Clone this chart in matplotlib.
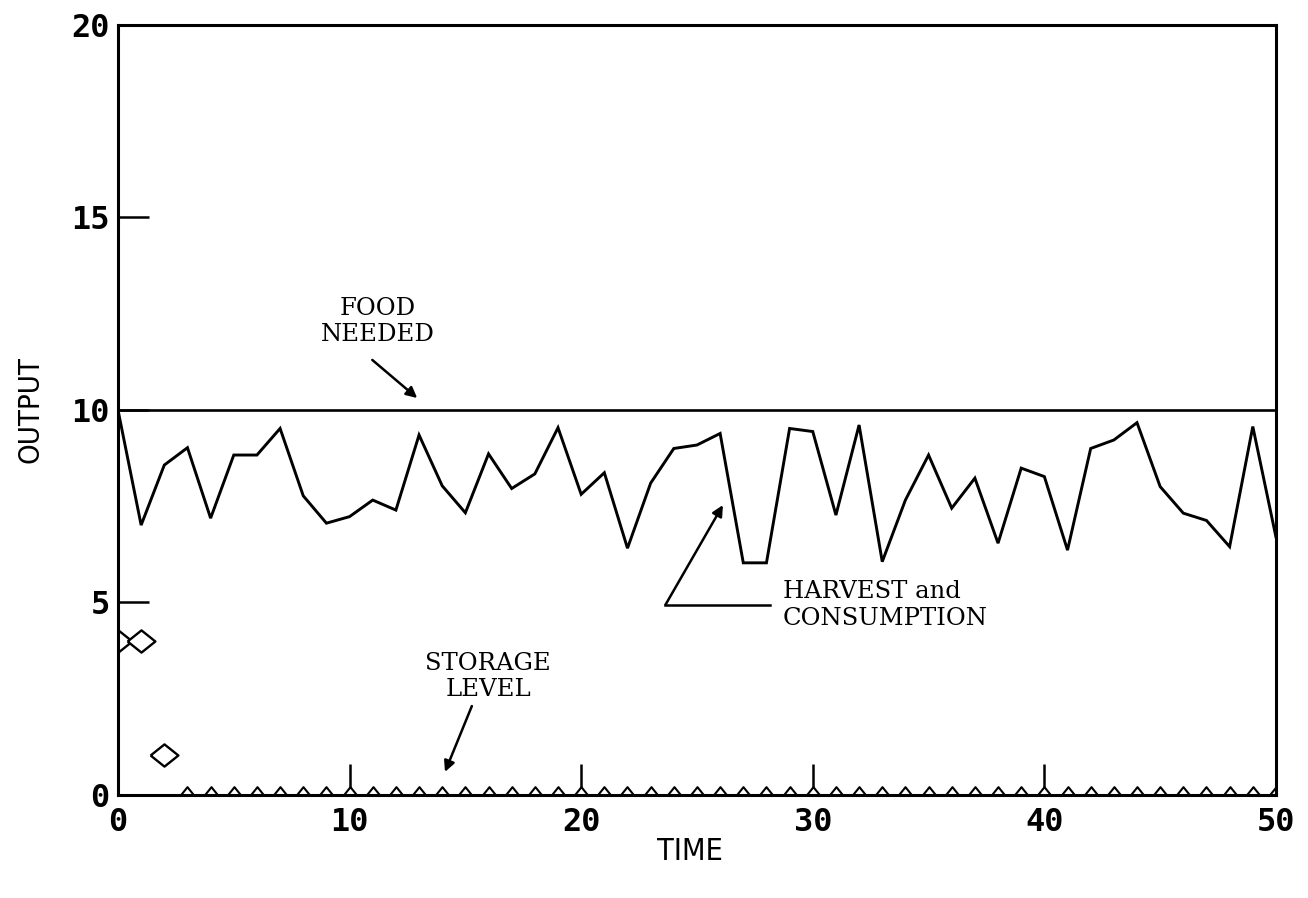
import numpy as np
import matplotlib
matplotlib.use('Agg')
import matplotlib.pyplot as plt

# harvest / consumption per time step
time = list(range(51))
harvest = [10.0, 7.01, 8.57, 9.02, 7.19, 8.83, 8.83, 9.52, 7.77, 7.06,
           7.23, 7.66, 7.40, 9.35, 8.03, 7.33, 8.86, 7.96, 8.34, 9.54,
           7.81, 8.37, 6.41, 8.10, 9.00, 9.09, 9.39, 6.03, 6.03, 9.52,
           9.44, 7.27, 9.61, 6.06, 7.66, 8.83, 7.45, 8.23, 6.54, 8.49,
           8.27, 6.36, 9.00, 9.22, 9.67, 8.01, 7.32, 7.13, 6.45, 9.57,
           6.70]
storage = [4.0, 4.0, 1.05, 0, 0, 0, 0, 0, 0, 0,
           0, 0, 0, 0, 0, 0, 0, 0, 0, 0,
           0, 0, 0, 0, 0, 0, 0, 0, 0, 0,
           0, 0, 0, 0, 0, 0, 0, 0, 0, 0,
           0, 0, 0, 0, 0, 0, 0, 0, 0, 0,
           0]
food_time = [0, 50]
food_needed = [10, 10]

x_ticks = [0, 10, 20, 30, 40, 50]
y_ticks = [0, 5, 10, 15, 20]

TICK_FONT = dict(family='DejaVu Sans Mono', weight='bold', size=23)
NOTE_FONT = dict(family='DejaVu Serif', size=17.5)

fig = plt.figure(figsize=(13.08, 8.98), dpi=100)
ax = fig.add_axes([0.0902, 0.1147, 0.8853, 0.8575])

ax.plot(food_time, food_needed, color='black', lw=1.9)
ax.plot(time, harvest, color='black', lw=2.1, solid_joinstyle='miter')

# storage level drawn as open diamonds, clipped at the axes
diamond = [(-1, 0), (0, 0.8), (1, 0), (0, -0.8), (-1, 0)]
small = [(-0.8, 0), (0, 1), (0.8, 0), (0, -1), (-0.8, 0)]
t = np.array(time)
s = np.array(storage)
ax.plot(t[s > 0], s[s > 0], ls='none', marker=diamond, ms=20,
        mfc='white', mec='black', mew=1.7, clip_on=True, zorder=4)
ax.plot(t[s == 0], s[s == 0], ls='none', marker=small, ms=12,
        mfc='white', mec='black', mew=1.5, clip_on=True, zorder=4)

ax.set_xlim(0, 50)
ax.set_ylim(0, 20)
ax.set_xticks(x_ticks)
ax.set_yticks(y_ticks)
ax.set_xticklabels([str(v) for v in x_ticks], fontdict=TICK_FONT)
ax.set_yticklabels([str(v) for v in y_ticks], fontdict=TICK_FONT)
ax.tick_params(axis='both', direction='in', length=22, width=1.8, color='black')
ax.tick_params(axis='x', pad=9)
ax.tick_params(axis='y', pad=6)
for sp in ax.spines.values():
    sp.set_linewidth(2.2)
    sp.set_zorder(5)

# annotations
ax.text(11.23, 12.3, 'FOOD\nNEEDED', ha='center', va='center',
        linespacing=1.2, **NOTE_FONT)
ax.annotate('', xy=(12.92, 10.31), xytext=(10.98, 11.3),
            arrowprops=dict(arrowstyle='-|>', lw=1.8, color='black',
                            mutation_scale=16, shrinkA=0, shrinkB=0))

ax.text(28.71, 4.93, 'HARVEST and\nCONSUMPTION', ha='left', va='center',
        linespacing=1.2, **NOTE_FONT)
ax.plot([28.17, 23.64], [4.94, 4.94], color='black', lw=1.8)
ax.annotate('', xy=(26.12, 7.53), xytext=(23.64, 4.94),
            arrowprops=dict(arrowstyle='-|>', lw=1.8, color='black',
                            mutation_scale=16, shrinkA=0, shrinkB=0))

ax.text(15.98, 3.08, 'STORAGE\nLEVEL', ha='center', va='center',
        linespacing=1.2, **NOTE_FONT)
ax.annotate('', xy=(14.12, 0.6), xytext=(15.28, 2.31),
            arrowprops=dict(arrowstyle='-|>', lw=1.8, color='black',
                            mutation_scale=16, shrinkA=0, shrinkB=0))

fig.text(690 / 1308, 1 - 851 / 898, 'TIME', ha='center', va='center',
         family='DejaVu Sans', stretch='condensed', size=22)
fig.text(30 / 1308, 1 - 410 / 898, 'OUTPUT', ha='center', va='center',
         rotation=90, family='DejaVu Sans', stretch='condensed', size=21)

fig.savefig('out.png', dpi=100)
